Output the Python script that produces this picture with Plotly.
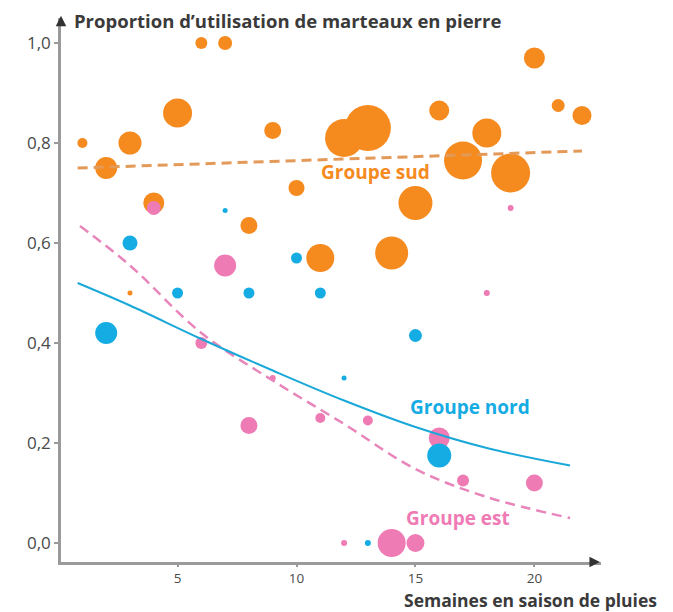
import plotly.graph_objects as go

# ---- data ----
sud_weeks = [1, 2, 3, 3, 4, 5, 6, 7, 8, 9, 10, 11, 12, 13, 14, 15, 16, 17, 18, 19, 20, 21, 22]
sud_prop = [0.80, 0.75, 0.80, 0.50, 0.68, 0.86, 1.0, 1.0, 0.635, 0.825, 0.71, 0.57, 0.81, 0.83,
            0.58, 0.68, 0.865, 0.765, 0.82, 0.74, 0.97, 0.875, 0.855]
sud_n = [10, 22, 23, 5, 21, 29, 12, 14, 17, 17, 16, 28, 38, 46, 33, 34, 20, 38, 29, 39, 21, 13, 19]

est_weeks = [4, 6, 7, 8, 9, 11, 12, 13, 14, 15, 16, 17, 18, 19, 20]
est_prop = [0.67, 0.40, 0.555, 0.235, 0.33, 0.25, 0.0, 0.245, 0.0, 0.0, 0.21, 0.125, 0.50, 0.67, 0.12]
est_n = [14, 12, 22, 17, 6, 10, 6, 10, 28, 18, 21, 12, 6, 6, 17]

nord_weeks = [2, 3, 5, 7, 8, 10, 11, 12, 13, 15, 16]
nord_prop = [0.42, 0.60, 0.50, 0.665, 0.50, 0.57, 0.50, 0.33, 0.0, 0.415, 0.175]
nord_n = [22, 15, 11, 5, 11, 11, 11, 5, 6, 13, 24]

# fitted trend curves
sud_fit_x = [0.8, 22]
sud_fit_y = [0.75, 0.784]
nord_fit_x = [0.8, 3, 6, 9, 12, 15, 18, 21.5]
nord_fit_y = [0.52, 0.475, 0.408, 0.345, 0.285, 0.232, 0.19, 0.155]
est_fit_x = [0.9, 3, 6, 9, 12, 15, 18, 21.5]
est_fit_y = [0.634, 0.555, 0.42, 0.325, 0.238, 0.148, 0.092, 0.05]

x_ticks = [5, 10, 15, 20]
y_ticks = [0.0, 0.2, 0.4, 0.6, 0.8, 1.0]

ORANGE = "#F58A1F"
PINK = "#EF7BB5"
BLUE = "#14ACE3"
ORANGE_LINE = "#E39A58"
PINK_LINE = "#E885BB"
BLUE_LINE = "#1AA8D8"
FONT = "Open Sans"
DARK = "#3a3a3a"

fig = go.Figure()

for xs, ys, ns, col in [(sud_weeks, sud_prop, sud_n, ORANGE),
                        (est_weeks, est_prop, est_n, PINK),
                        (nord_weeks, nord_prop, nord_n, BLUE)]:
    fig.add_trace(go.Scatter(x=xs, y=ys, mode="markers",
                             marker=dict(size=ns, sizemode="diameter", color=col,
                                         opacity=1, line=dict(width=0)),
                             hoverinfo="skip", showlegend=False, cliponaxis=False))

fig.add_trace(go.Scatter(x=sud_fit_x, y=sud_fit_y, mode="lines",
                         line=dict(color=ORANGE_LINE, width=3, dash="10px,6px"),
                         hoverinfo="skip", showlegend=False))
fig.add_trace(go.Scatter(x=est_fit_x, y=est_fit_y, mode="lines",
                         line=dict(color=PINK_LINE, width=2.5, dash="10px,6px", shape="spline"),
                         hoverinfo="skip", showlegend=False))
fig.add_trace(go.Scatter(x=nord_fit_x, y=nord_fit_y, mode="lines",
                         line=dict(color=BLUE_LINE, width=2, shape="spline"),
                         hoverinfo="skip", showlegend=False))

annotations = [
    dict(x=0.02, y=0.995, xref="paper", yref="paper", xanchor="left", yanchor="middle",
         text="<b>Proportion d\u2019utilisation de marteaux en pierre</b>", showarrow=False,
         font=dict(family=FONT, size=18.5, color=DARK)),
    dict(x=1.107, y=-0.0707, xref="paper", yref="paper", xanchor="right", yanchor="middle",
         text="<b>Semaines en saison de pluies</b>", showarrow=False,
         font=dict(family=FONT, size=17.5, color=DARK)),
    dict(x=13.3, y=0.742, xref="x", yref="y", text="<b>Groupe sud</b>", showarrow=False,
         font=dict(family=FONT, size=19, color=ORANGE)),
    dict(x=17.3, y=0.272, xref="x", yref="y", text="<b>Groupe nord</b>", showarrow=False,
         font=dict(family=FONT, size=19, color=BLUE)),
    dict(x=16.8, y=0.05, xref="x", yref="y", text="<b>Groupe est</b>", showarrow=False,
         font=dict(family=FONT, size=19, color=PINK)),
    # axis arrows
    dict(x=0.0, y=1.004, xref="paper", yref="paper", ax=0, ay=10, text="", showarrow=True,
         arrowhead=2, arrowsize=1.4, arrowwidth=1.5, arrowcolor="#333"),
    dict(x=0.998, y=0.0, xref="paper", yref="paper", ax=-10, ay=0, text="", showarrow=True,
         arrowhead=2, arrowsize=1.4, arrowwidth=1.5, arrowcolor="#333"),
]

fig.update_layout(
    width=673, height=612,
    margin=dict(l=53, r=80, t=10, b=57.5),
    paper_bgcolor="white", plot_bgcolor="white",
    separators=", ",
    annotations=annotations,
    font=dict(family=FONT),
)
fig.update_xaxes(range=[0.1, 22.8], showgrid=False, zeroline=False, showline=True,
                 linecolor="#9a9a9a", linewidth=2.5, ticks="outside", ticklen=2, tickwidth=1.5,
                 tickcolor="#9a9a9a", tickvals=x_ticks, automargin=False, ticklabelstandoff=0,
                 tickfont=dict(family=FONT, size=13.5, color="#4a4a4a"))
fig.update_yaxes(range=[-0.038, 1.05], showgrid=False, zeroline=False, showline=True,
                 linecolor="#9a9a9a", linewidth=2.5, ticks="outside", ticklen=4, tickwidth=1.5,
                 tickcolor="#9a9a9a", tickvals=y_ticks, tickformat=".1f", automargin=False,
                 tickfont=dict(family=FONT, size=17, color="#4a4a4a"))

fig.write_html("out.html")
